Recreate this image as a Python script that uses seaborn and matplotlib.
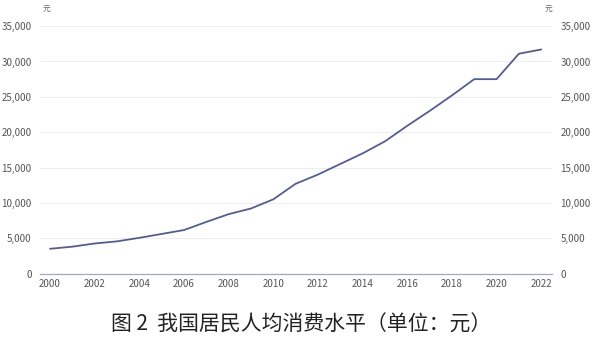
import matplotlib
matplotlib.use("Agg")
import matplotlib.pyplot as plt
import seaborn as sns
import pandas as pd
from matplotlib.ticker import FuncFormatter

# Per-capita consumption expenditure, yuan
years = list(range(2000, 2023))
spending = [3500, 3800, 4250, 4550, 5050, 5600, 6150, 7300, 8400, 9200,
            10500, 12700, 14000, 15500, 17000, 18700, 20900, 23000, 25200,
            27500, 27500, 31100, 31700]
y_ticks = [0, 5000, 10000, 15000, 20000, 25000, 30000, 35000]
x_ticks = list(range(2000, 2023, 2))
caption = "图 2  我国居民人均消费水平（单位：元）"
unit = "元"

sns.set_theme(style="white")
plt.rcParams["font.family"] = ["Noto Sans CJK SC", "DejaVu Sans"]

df = pd.DataFrame({"year": years, "value": spending})

fig = plt.figure(figsize=(5.99, 3.45), dpi=100)
ax = fig.add_axes([0.0668, 0.2072, 0.855, 0.717])

sns.lineplot(data=df, x="year", y="value", ax=ax, color="#545e8c", linewidth=1.3)

ax.set_xlim(1999.55, 2022.49)
ax.set_ylim(0, 35000)
ax.set_xticks(x_ticks)
ax.set_yticks(y_ticks)
ax.yaxis.set_major_formatter(FuncFormatter(lambda v, p: f"{int(v):,}"))
ax.set_xlabel("")
ax.set_ylabel("")

for s in ["top", "left", "right"]:
    ax.spines[s].set_visible(False)
ax.spines["bottom"].set_color("#a3a8bc")
ax.spines["bottom"].set_linewidth(0.9)

ax.grid(axis="y", color="#ededed", linewidth=0.8)
ax.grid(axis="x", visible=False)
ax.set_axisbelow(True)

ax.tick_params(axis="y", length=0, labelsize=7, labelcolor="#555555",
               labelright=True, pad=6)
ax.tick_params(axis="x", length=0, labelsize=7, labelcolor="#555555", pad=4)

fig.text(43 / 599, 1 - 10 / 345, unit, fontsize=5.5, color="#666666",
         ha="left", va="center")
fig.text(548 / 599, 1 - 10 / 345, unit, fontsize=5.5, color="#666666",
         ha="center", va="center")

fig.text(0.503, 1 - 325 / 345, caption, fontsize=15, color="#222222",
         ha="center", va="center")

fig.savefig("out.png", dpi=100)
